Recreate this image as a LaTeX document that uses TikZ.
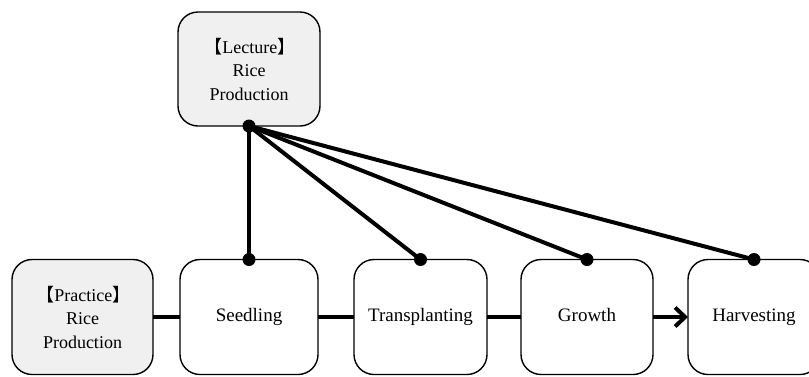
\documentclass[tikz,border=0pt]{standalone}
\usepackage{fontspec}
\setmainfont{Liberation Serif}
\newfontfamily\cjk{Noto Sans CJK SC}
\usetikzlibrary{arrows.meta}
\definecolor{boxgray}{HTML}{F0F0F0}
\newcommand{\lb}{{\cjk\hspace{0.1em}【}}
\newcommand{\rb}{{\cjk 】\hspace{0.1em}}}
\begin{document}
\begin{tikzpicture}[x=1pt,y=-1pt,
  box/.style={draw, line width=1.4pt, rounded corners=20pt, align=center,
    font=\fontsize{19}{23.5}\selectfont, inner sep=0pt, outer sep=0pt,
    minimum height=115pt},
  graybox/.style={box, fill=boxgray, font=\fontsize{18}{23.5}\selectfont},
  conn/.style={line width=4pt},
  dot/.style={fill=black}]
\useasboundingbox (0,0) rectangle (809,376);
\node[graybox, minimum width=142pt, minimum height=114pt] (lec) at (249,69) {\lb Lecture\rb\\Rice\\Production};
\node[graybox, minimum width=141pt] (prac) at (82.5,317) {\lb Practice\rb\\Rice\\Production};
\node[box, minimum width=138pt] (seed) at (249,317) {\strut Seedling};
\node[box, minimum width=133pt] (trans) at (420.5,317) {\strut Transplanting};
\node[box, minimum width=132pt] (grow) at (587,317) {\strut Growth};
\node[box, minimum width=132pt] (harv) at (754,317) {\strut Harvesting};
\draw[conn] (prac) -- (seed);
\draw[conn] (seed) -- (trans);
\draw[conn] (trans) -- (grow);
\draw[conn, -{Straight Barb[length=10pt,width=19pt]}] (grow) -- (harv);
\draw[conn] (lec.south) -- (seed.north);
\draw[conn] (lec.south) -- (trans.north);
\draw[conn] (lec.south) -- (grow.north);
\draw[conn] (lec.south) -- (harv.north);
\fill[dot] (lec.south) circle (6.5pt);
\fill[dot] (seed.north) circle (6.5pt);
\fill[dot] (trans.north) circle (6.5pt);
\fill[dot] (grow.north) circle (6.5pt);
\fill[dot] (harv.north) circle (6.5pt);
\end{tikzpicture}
\end{document}
